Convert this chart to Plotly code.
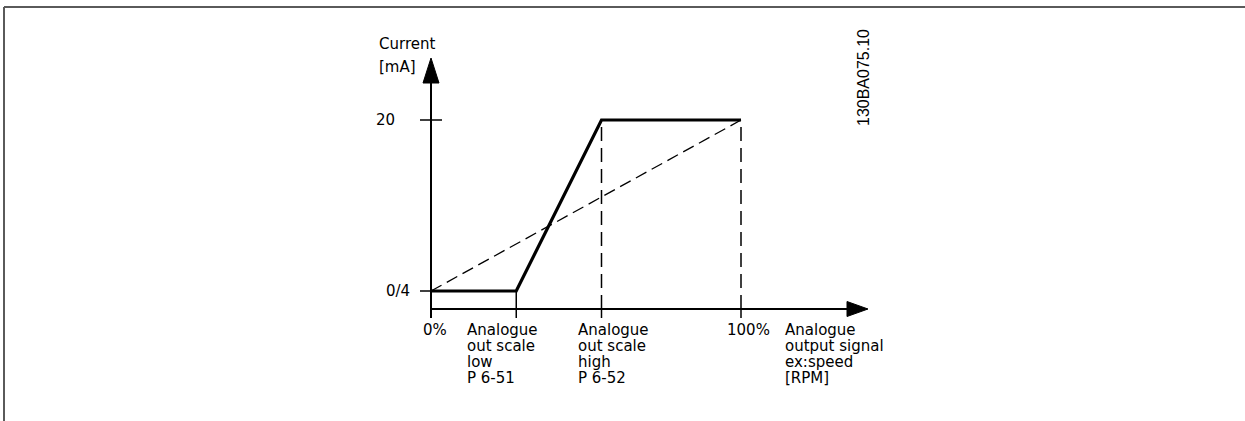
import plotly.graph_objects as go

# ---------------- data ----------------
X_POS_PCT = [0, 27.5, 55, 100]          # 0%, scale low, scale high, 100%
OUTPUT_X = [0, 27.5, 55, 100]
OUTPUT_MA = [4, 4, 20, 20]
LINEAR_X = [0, 100]
LINEAR_MA = [4, 20]
Y_LEVELS_MA = [4, 20]
Y_TICK_LABELS = ["0/4", "20"]
X_LABEL_LINES = [
    ["0%"],
    ["Analogue", "out scale", "low", "P 6-51"],
    ["Analogue", "out scale", "high", "P 6-52"],
    ["100%"],
    ["Analogue", "output signal", "ex:speed", "[RPM]"],
]
Y_TITLE_LINES = ["Current", "[mA]"]
DRAWING_ID = "130BA075.10"

# ---------------- layout constants (pixels) ----------------
W, H = 1245, 421
X0_PX, PX_PER_PCT = 431, 3.1
Y4_PX, PX_PER_MA = 291, 10.6875
AXIS_Y_PX = 309
AXIS_X_END_PX = 847
AXIS_Y_END_PX = 83

def px2x(px):
    return (px - X0_PX) / PX_PER_PCT

def py2y(py):
    return 4 + (Y4_PX - py) / PX_PER_MA

FONT = dict(family="DejaVu Sans, Verdana, sans-serif", size=15, color="black")
BLACK = "black"

fig = go.Figure()
shapes = []
annotations = []

def seg(x0, y0, x1, y1, width=2, dash="solid"):
    shapes.append(dict(type="line", xref="x", yref="y", x0=x0, y0=y0, x1=x1, y1=y1,
                       line=dict(color=BLACK, width=width, dash=dash), layer="above"))

axis_y = py2y(AXIS_Y_PX)
tick_below = py2y(AXIS_Y_PX + 9)

# axes
seg(0, tick_below, 0, py2y(AXIS_Y_END_PX), width=2)
seg(0, axis_y, px2x(AXIS_X_END_PX), axis_y, width=2)

# arrowheads (filled triangles)
fig.add_trace(go.Scatter(
    x=[px2x(X0_PX - 8), px2x(X0_PX + 8), 0, px2x(X0_PX - 8)],
    y=[py2y(AXIS_Y_END_PX), py2y(AXIS_Y_END_PX), py2y(58), py2y(AXIS_Y_END_PX)],
    fill="toself", fillcolor=BLACK, mode="lines", line=dict(color=BLACK, width=1),
    hoverinfo="skip", showlegend=False))
fig.add_trace(go.Scatter(
    x=[px2x(AXIS_X_END_PX), px2x(AXIS_X_END_PX), px2x(868), px2x(AXIS_X_END_PX)],
    y=[py2y(AXIS_Y_PX - 7.5), py2y(AXIS_Y_PX + 7.5), axis_y, py2y(AXIS_Y_PX - 7.5)],
    fill="toself", fillcolor=BLACK, mode="lines", line=dict(color=BLACK, width=1),
    hoverinfo="skip", showlegend=False))

# y ticks
seg(px2x(420), Y_LEVELS_MA[0], 0, Y_LEVELS_MA[0], width=1.5)
seg(px2x(420), Y_LEVELS_MA[1], px2x(442), Y_LEVELS_MA[1], width=1.5)

# x ticks / reference lines
for i, xv in enumerate(X_POS_PCT):
    if i == 0:
        continue
    seg(xv, axis_y, xv, tick_below, width=1.5)
    yv = OUTPUT_MA[i]
    if i == 1:
        seg(xv, axis_y, xv, yv, width=1.5)
    else:
        seg(xv, axis_y, xv, yv, width=1.5, dash="14px,7px")

# linear (dashed) characteristic
fig.add_trace(go.Scatter(x=LINEAR_X, y=LINEAR_MA, mode="lines",
                         line=dict(color=BLACK, width=1.3, dash="12px,6px"),
                         hoverinfo="skip", showlegend=False))
# scaled output characteristic
fig.add_trace(go.Scatter(x=OUTPUT_X, y=OUTPUT_MA, mode="lines",
                         line=dict(color=BLACK, width=3.2),
                         hoverinfo="skip", showlegend=False))

# y tick labels
Y_LABEL_RIGHT_PX = [412, 397]
for lab, yv, rpx in zip(Y_TICK_LABELS, Y_LEVELS_MA, Y_LABEL_RIGHT_PX):
    annotations.append(dict(x=px2x(rpx), y=yv, xref="x", yref="y", text=lab,
                            showarrow=False, xanchor="right", yanchor="middle", font=FONT))

# y title
for k, line in enumerate(Y_TITLE_LINES):
    annotations.append(dict(x=px2x(377), y=py2y(44 + 23 * k), xref="x", yref="y", text=line,
                            showarrow=False, xanchor="left", yanchor="middle", font=FONT))

# x labels
X_LABEL_PX = [(435, "center"), (465, "left"), (576, "left"), (748, "center"), (783, "left")]
for lines, (lpx, anchor) in zip(X_LABEL_LINES, X_LABEL_PX):
    for k, line in enumerate(lines):
        annotations.append(dict(x=px2x(lpx), y=py2y(330 + 16 * k), xref="x", yref="y",
                                text=line, showarrow=False, xanchor=anchor, yanchor="middle",
                                font=FONT))

# drawing id (rotated)
annotations.append(dict(x=px2x(863), y=py2y(78), xref="x", yref="y", text=DRAWING_ID,
                        textangle=-90, showarrow=False, xanchor="center", yanchor="middle",
                        font=dict(family="Liberation Sans, Arial, sans-serif", size=16,
                                  color="black")))

# frame
shapes.append(dict(type="line", xref="paper", yref="paper", x0=4 / W, x1=1, y0=1 - 7 / H,
                   y1=1 - 7 / H, line=dict(color="#5a5a5a", width=2)))
shapes.append(dict(type="line", xref="paper", yref="paper", x0=4 / W, x1=4 / W, y0=0,
                   y1=1 - 7 / H, line=dict(color="#5a5a5a", width=2)))

fig.update_layout(
    width=W, height=H, autosize=False,
    margin=dict(l=0, r=0, t=0, b=0),
    paper_bgcolor="white", plot_bgcolor="white",
    xaxis=dict(range=[px2x(0), px2x(W)], visible=False, fixedrange=True),
    yaxis=dict(range=[py2y(H), py2y(0)], visible=False, fixedrange=True),
    shapes=shapes, annotations=annotations, showlegend=False,
)

fig.write_html("out.html", config=dict(displayModeBar=False),
               post_script="document.body.style.margin='0px';"
                           "document.body.style.overflow='hidden';")
